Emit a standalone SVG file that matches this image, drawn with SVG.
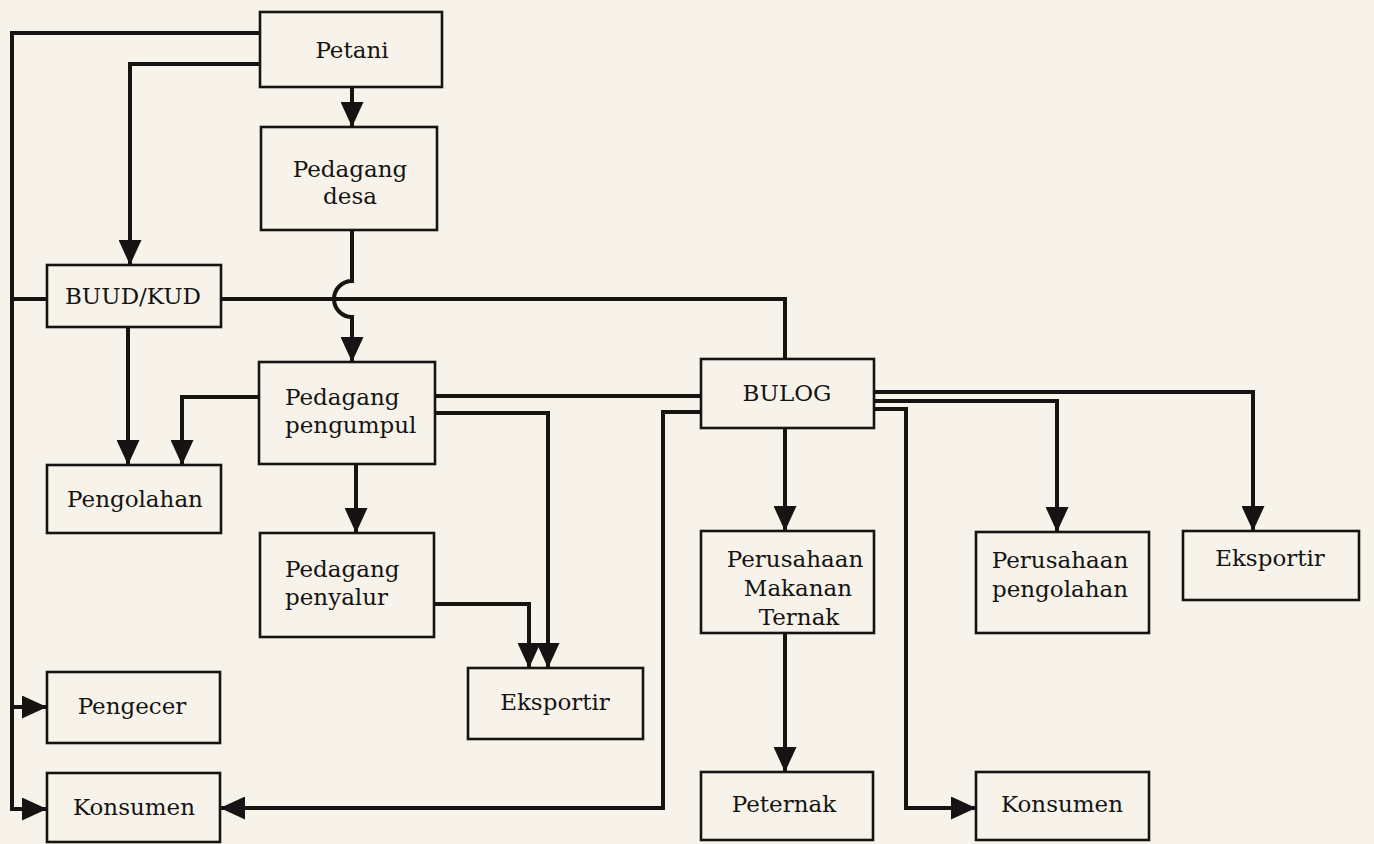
<svg xmlns="http://www.w3.org/2000/svg" width="1374" height="844" viewBox="0 0 1374 844">
<style>
.bg{fill:#f7f3ea}
.box{fill:#f7f3ea;stroke:#161412;stroke-width:2.6}
.t{font-family:"DejaVu Serif","Liberation Serif",serif;font-size:23px;fill:#161412}
.c{text-anchor:middle}
.ln{fill:none;stroke:#161412;stroke-width:4}
.ar{marker-end:url(#ah)}
</style>
<defs>
<marker id="ah" viewBox="0 0 25 23" refX="25" refY="11.5" markerWidth="25" markerHeight="23" markerUnits="userSpaceOnUse" orient="auto">
<path d="M0 0 L25 11.5 L0 23 Z" fill="#161412"/>
</marker>
</defs>
<rect class="bg" x="0" y="0" width="1374" height="844"/>
<g id="connectors">
<path class="ln ar" d="M260 33 H12 V809 H47"/>
<path class="ln ar" d="M12 707 H47"/>
<path class="ln" d="M47 299 H12"/>
<path class="ln ar" d="M260 64 H130 V265"/>
<path class="ln ar" d="M352 87 V127"/>
<path class="ln" d="M221 299 H785 V359"/>
<path class="ln ar" d="M352 230 V281 A18 18 0 0 0 352 317 V362"/>
<path class="ln ar" d="M128 327 V465"/>
<path class="ln ar" d="M260 397 H182 V465"/>
<path class="ln ar" d="M356 465 V533"/>
<path class="ln" d="M435 396 H701"/>
<path class="ln ar" d="M435 413 H548 V668"/>
<path class="ln ar" d="M434 604 H529 V668"/>
<path class="ln ar" d="M701 412 H663 V808 H220"/>
<path class="ln ar" d="M874 392 H1253 V531"/>
<path class="ln ar" d="M874 401 H1057 V532"/>
<path class="ln ar" d="M874 409 H906 V808 H976"/>
<path class="ln ar" d="M785 428 V531"/>
<path class="ln ar" d="M785 633 V772"/>
</g>
<g id="petani"><rect class="box" x="260" y="12" width="182" height="75"/><text class="t c" x="352" y="58">Petani</text></g>
<g id="pedagang-desa"><rect class="box" x="261" y="127" width="176" height="103"/><text class="t c" x="350" y="177">Pedagang</text><text class="t c" x="350" y="204">desa</text></g>
<g id="buud-kud"><rect class="box" x="47" y="265" width="174" height="62"/><text class="t c" x="133" y="304">BUUD/KUD</text></g>
<g id="pedagang-pengumpul"><rect class="box" x="259" y="362" width="176" height="102"/><text class="t" x="285" y="405">Pedagang</text><text class="t" x="285" y="433">pengumpul</text></g>
<g id="pengolahan"><rect class="box" x="47" y="465" width="174" height="68"/><text class="t c" x="135" y="507">Pengolahan</text></g>
<g id="pedagang-penyalur"><rect class="box" x="260" y="533" width="174" height="104"/><text class="t" x="285" y="577">Pedagang</text><text class="t" x="285" y="605">penyalur</text></g>
<g id="eksportir-1"><rect class="box" x="468" y="668" width="175" height="71"/><text class="t c" x="555" y="710">Eksportir</text></g>
<g id="pengecer"><rect class="box" x="47" y="672" width="173" height="71"/><text class="t c" x="132" y="714">Pengecer</text></g>
<g id="konsumen-1"><rect class="box" x="47" y="773" width="173" height="69"/><text class="t c" x="134" y="815">Konsumen</text></g>
<g id="bulog"><rect class="box" x="701" y="359" width="173" height="69"/><text class="t c" x="787" y="401">BULOG</text></g>
<g id="perusahaan-makanan-ternak"><rect class="box" x="701" y="531" width="173" height="102"/><text class="t c" x="795" y="567">Perusahaan</text><text class="t c" x="798" y="596">Makanan</text><text class="t c" x="799" y="625">Ternak</text></g>
<g id="perusahaan-pengolahan"><rect class="box" x="976" y="532" width="173" height="101"/><text class="t c" x="1060" y="568">Perusahaan</text><text class="t c" x="1060" y="597">pengolahan</text></g>
<g id="eksportir-2"><rect class="box" x="1183" y="531" width="176" height="69"/><text class="t c" x="1270" y="566">Eksportir</text></g>
<g id="peternak"><rect class="box" x="701" y="772" width="172" height="68"/><text class="t c" x="784" y="812">Peternak</text></g>
<g id="konsumen-2"><rect class="box" x="976" y="772" width="173" height="68"/><text class="t c" x="1062" y="812">Konsumen</text></g>
</svg>
